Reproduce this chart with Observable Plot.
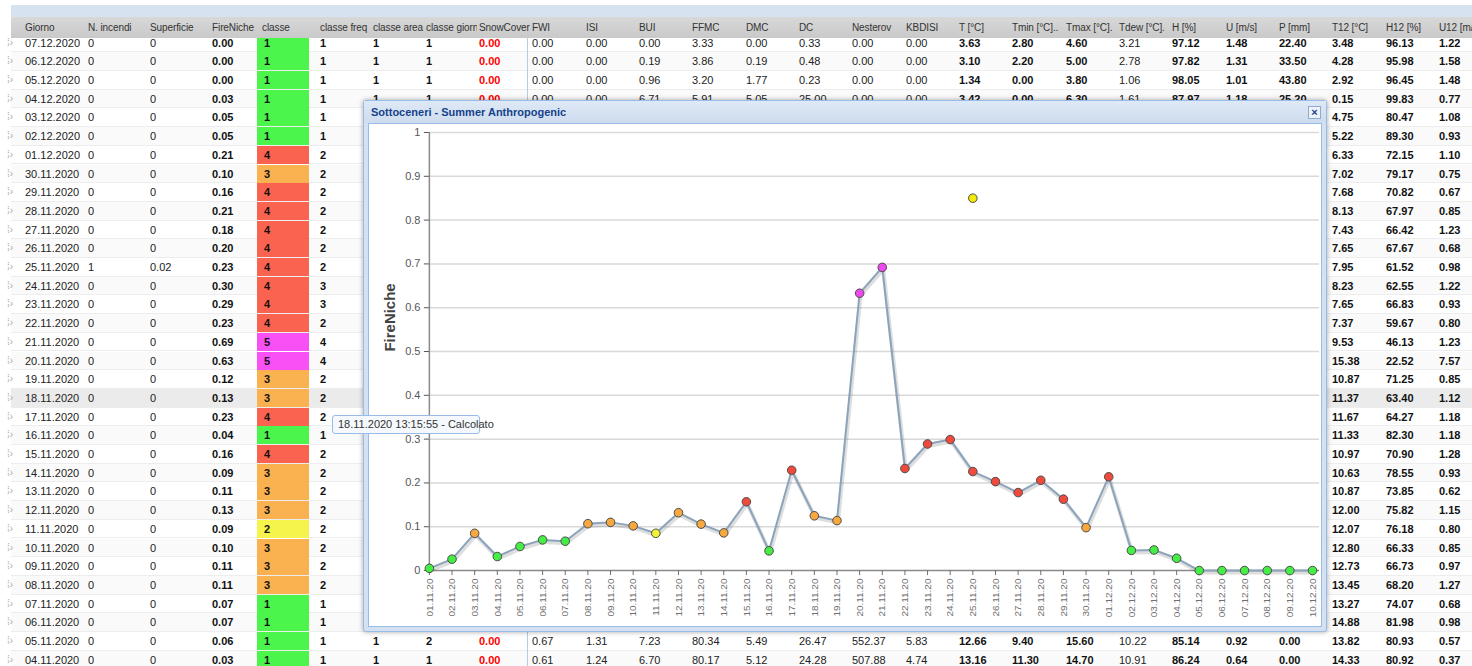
<!DOCTYPE html>
<html>
<head>
<meta charset="utf-8">
<script src="https://cdn.jsdelivr.net/npm/d3@7"></script>
<script src="https://cdn.jsdelivr.net/npm/@observablehq/plot@0.6"></script>
<style>
  html, body { margin: 0; padding: 0; width: 1472px; height: 666px; overflow: hidden; background: #fff; font-family: "Liberation Sans", Arial, sans-serif; font-size: 11px; color: #222; }
  .abs { position: absolute; }
  .band { left: 11px; right: 0; top: 5px; height: 12px; background: #d6e2f0; }
  .hdr { left: 11px; right: 0; top: 17px; height: 21px; background: linear-gradient(#d8d8d8, #c9c9c9); z-index: 3; }
  .hcell, .cell { position: absolute; white-space: nowrap; overflow: hidden; box-sizing: border-box; padding-left: 5px; }
  .hcell { top: 0; height: 21px; line-height: 21px; color: #333; font-size: 10px; letter-spacing: -0.1px; }
  .row { position: absolute; left: 11px; right: 0; height: 18.7px; border-bottom: 1px solid #ededed; box-sizing: border-box; }
  .cell { top: 0; height: 18px; line-height: 18px; }
  .b { font-weight: bold; color: #111; }
  .red { color: #f00; font-weight: bold; }
  .vline { left: 527px; top: 17px; bottom: 0; width: 1px; background: #b5cbe6; z-index: 2; }
  .grip { position: absolute; left: -4px; top: 0; line-height: 18px; color: #aaa; font-size: 10px; }
  #popup { left: 363px; top: 100px; width: 964px; height: 532px; background: #d3e1f1; border: 1px solid #99bbe8; box-sizing: border-box; box-shadow: 0 0 5px rgba(0,0,0,0.35); border-radius: 3px; z-index: 10; }
  #ptitle { position: absolute; left: 0; top: 0; right: 0; height: 22px; background: linear-gradient(#dfe9f6, #cddcee); color: #15428b; font-weight: bold; font-size: 11px; line-height: 23px; padding-left: 7px; }
  #pclose { position: absolute; right: 5px; top: 5px; width: 11px; height: 11px; border: 1px solid #8eaad0; background: #eef3fa; color: #15428b; font-size: 11px; line-height: 10px; text-align: center; font-weight: bold; }
  #pbody { position: absolute; left: 4px; top: 22px; width: 954px; height: 504px; background: #fff; border: 1px solid #99bbe8; box-sizing: border-box; overflow: hidden; }
  #chart svg { display: block; }
  #tip { left: 332px; top: 415px; width: 148px; height: 19px; box-sizing: border-box; border: 1px solid #99bbe8; background: #f5f8fc; border-radius: 3px; color: #333; font-size: 11px; line-height: 17px; padding-left: 5px; z-index: 20; white-space: nowrap; }
</style>
</head>
<body>
<div class="abs band"></div>
<div class="abs hdr" id="hdr"></div>
<div class="abs vline"></div>
<div id="rows"></div>
<div class="abs" id="popup">
  <div id="ptitle">Sottoceneri - Summer Anthropogenic</div>
  <div id="pclose">×</div>
  <div id="pbody"><div id="chart"></div></div>
</div>
<div class="abs" id="tip">18.11.2020 13:15:55 - Calcolato</div>
<script>
// ---------------- Table data ----------------
const headers = ["Giorno","N. incendi","Superficie","FireNiche","classe","classe freq","classe area","classe giorni","SnowCover","FWI","ISI","BUI","FFMC","DMC","DC","Nesterov","KBDISI","T [°C]","Tmin [°C]..","Tmax [°C].","Tdew [°C].","H [%]","U [m/s]","P [mm]","T12 [°C]","H12 [%]","U12 [m/s]"];
const giorno = ["07.12.2020","06.12.2020","05.12.2020","04.12.2020","03.12.2020","02.12.2020","01.12.2020","30.11.2020","29.11.2020","28.11.2020","27.11.2020","26.11.2020","25.11.2020","24.11.2020","23.11.2020","22.11.2020","21.11.2020","20.11.2020","19.11.2020","18.11.2020","17.11.2020","16.11.2020","15.11.2020","14.11.2020","13.11.2020","12.11.2020","11.11.2020","10.11.2020","09.11.2020","08.11.2020","07.11.2020","06.11.2020","05.11.2020","04.11.2020"];
const nIncendi = ["0","0","0","0","0","0","0","0","0","0","0","0","1","0","0","0","0","0","0","0","0","0","0","0","0","0","0","0","0","0","0","0","0","0"];
const superficie = ["0","0","0","0","0","0","0","0","0","0","0","0","0.02","0","0","0","0","0","0","0","0","0","0","0","0","0","0","0","0","0","0","0","0","0"];
const fireNicheTable = ["0.00","0.00","0.00","0.03","0.05","0.05","0.21","0.10","0.16","0.21","0.18","0.20","0.23","0.30","0.29","0.23","0.69","0.63","0.12","0.13","0.23","0.04","0.16","0.09","0.11","0.13","0.09","0.10","0.11","0.11","0.07","0.07","0.06","0.03"];
const classe = [1,1,1,1,1,1,4,3,4,4,4,4,4,4,4,4,5,5,3,3,4,1,4,3,3,3,2,3,3,3,1,1,1,1];
const classeFreq = [1,1,1,1,1,1,2,2,2,2,2,2,2,3,3,2,4,4,2,2,2,1,2,2,2,2,2,2,2,2,1,1,1,1];
const t12 = ["3.48","4.28","2.92","0.15","4.75","5.22","6.33","7.02","7.68","8.13","7.43","7.65","7.95","8.23","7.65","7.37","9.53","15.38","10.87","11.37","11.67","11.33","10.97","10.63","10.87","12.00","12.07","12.80","12.73","13.45","13.27","14.88","13.82","14.33"];
const h12 = ["96.13","95.98","96.45","99.83","80.47","89.30","72.15","79.17","70.82","67.97","66.42","67.67","61.52","62.55","66.83","59.67","46.13","22.52","71.25","63.40","64.27","82.30","70.90","78.55","73.85","75.82","76.18","66.33","66.73","68.20","74.07","81.98","80.93","80.92"];
const u12 = ["1.22","1.58","1.48","0.77","1.08","0.93","1.10","0.75","0.67","0.85","1.23","0.68","0.98","1.22","0.93","0.80","1.23","7.57","0.85","1.12","1.18","1.18","1.28","0.93","0.62","1.15","0.80","0.85","0.97","1.27","0.68","0.98","0.57","0.37"];
// middle columns (classe area .. P [mm]) for the rows not hidden by the popup
const midDates = ["07.12.2020","06.12.2020","05.12.2020","04.12.2020","05.11.2020","04.11.2020"];
const midValues = [
  ["1","1","0.00","0.00","0.00","0.00","3.33","0.00","0.33","0.00","0.00","3.63","2.80","4.60","3.21","97.12","1.48","22.40"],
  ["1","1","0.00","0.00","0.00","0.19","3.86","0.19","0.48","0.00","0.00","3.10","2.20","5.00","2.78","97.82","1.31","33.50"],
  ["1","1","0.00","0.00","0.00","0.96","3.20","1.77","0.23","0.00","0.00","1.34","0.00","3.80","1.06","98.05","1.01","43.80"],
  ["1","1","0.00","0.00","0.00","6.71","5.91","5.05","25.00","0.00","0.00","3.42","0.00","6.30","1.61","87.97","1.18","25.20"],
  ["1","2","0.00","0.67","1.31","7.23","80.34","5.49","26.47","552.37","5.83","12.66","9.40","15.60","10.22","85.14","0.92","0.00"],
  ["1","1","0.00","0.61","1.24","6.70","80.17","5.12","24.28","507.88","4.74","13.16","11.30","14.70","10.91","86.24","0.64","0.00"]
];
const classColors = {1: "#4cf54c", 2: "#f4f44c", 3: "#f9b24f", 4: "#fa6350", 5: "#f850f5"};

// ---------------- Chart data ----------------
const chartDates = ["01.11.20","02.11.20","03.11.20","04.11.20","05.11.20","06.11.20","07.11.20","08.11.20","09.11.20","10.11.20","11.11.20","12.11.20","13.11.20","14.11.20","15.11.20","16.11.20","17.11.20","18.11.20","19.11.20","20.11.20","21.11.20","22.11.20","23.11.20","24.11.20","25.11.20","26.11.20","27.11.20","28.11.20","29.11.20","30.11.20","01.12.20","02.12.20","03.12.20","04.12.20","05.12.20","06.12.20","07.12.20","08.12.20","09.12.20","10.12.20"];
const fireNiche = [0.005,0.026,0.085,0.032,0.055,0.07,0.067,0.107,0.11,0.102,0.085,0.132,0.106,0.086,0.157,0.045,0.229,0.125,0.114,0.633,0.692,0.233,0.289,0.299,0.226,0.203,0.178,0.206,0.163,0.098,0.214,0.046,0.047,0.028,0,0,0,0,0,0];
const chartClass = [1,1,3,1,1,1,1,3,3,3,2,3,3,3,4,1,4,3,3,5,5,4,4,4,4,4,4,4,4,3,4,1,1,1,1,1,1,1,1,1];
const fireEventDates = ["25.11.20"];
const fireEventValues = [0.85];
const yTicks = [0,0.1,0.2,0.3,0.4,0.5,0.6,0.7,0.8,0.9,1];
const pointColors = {1: "#44ee44", 2: "#f2f238", 3: "#f7a83e", 4: "#f04a3c", 5: "#ee48ee"};

// ---------------- Build table ----------------
const colLeft = [20,83,145,207,257,315,368,421,474,527,581,634,687,741,794,847,901,954,1007,1061,1114,1167,1221,1274,1327,1381,1434];
const colW = colLeft.map((x, i) => (i < colLeft.length - 1 ? colLeft[i + 1] - x : 60));
const boldCols = new Set([3,4,5,6,7,17,18,19,21,22,23,24,25,26]);
const hdr = document.getElementById("hdr");
headers.forEach((h, i) => {
  const d = document.createElement("div");
  d.className = "hcell";
  d.style.left = (colLeft[i] - 11) + "px";
  d.style.width = (colW[i] + 3) + "px";
  d.textContent = h;
  hdr.appendChild(d);
});
const rowsEl = document.getElementById("rows");
giorno.forEach((g, r) => {
  const row = document.createElement("div");
  row.className = "row";
  row.style.top = (33.6 + 18.7 * r) + "px";
  row.style.background = g === "18.11.2020" ? "#ebebeb" : (r % 2 ? "#fafafa" : "#fff");
  const grip = document.createElement("span");
  grip.className = "grip"; grip.textContent = "⁞›";
  row.appendChild(grip);
  const vals = new Array(headers.length).fill("");
  vals[0] = g; vals[1] = nIncendi[r]; vals[2] = superficie[r]; vals[3] = fireNicheTable[r];
  vals[4] = String(classe[r]); vals[5] = String(classeFreq[r]);
  vals[24] = t12[r]; vals[25] = h12[r]; vals[26] = u12[r];
  const mi = midDates.indexOf(g);
  if (mi >= 0) midValues[mi].forEach((v, k) => { vals[6 + k] = v; });
  vals.forEach((v, i) => {
    if (v === "") return;
    const c = document.createElement("div");
    c.className = "cell" + (i === 8 ? " red" : boldCols.has(i) ? " b" : "");
    c.style.left = (colLeft[i] - 11) + "px";
    c.style.width = (i === 4 ? 52 : colW[i] - 2) + "px";
    if (i === 4) { c.style.background = classColors[classe[r]]; c.style.paddingLeft = "7px"; }
    c.textContent = v;
    row.appendChild(c);
  });
  rowsEl.appendChild(row);
});

// ---------------- Build chart ----------------
const points = chartDates.map((d, i) => ({date: d, value: fireNiche[i], cls: chartClass[i]}));
const events = fireEventDates.map((d, i) => ({date: d, value: fireEventValues[i]}));
const chart = Plot.plot({
  width: 954,
  height: 504,
  marginLeft: 60,
  marginRight: 9,
  marginTop: 8,
  marginBottom: 57,
  style: {fontFamily: "'Liberation Sans', Arial, sans-serif", background: "#fff", overflow: "visible"},
  x: {type: "point", domain: chartDates, padding: 0, round: false},
  y: {domain: [0, 1]},
  marks: [
    Plot.ruleY(yTicks.filter(d => d > 0), {stroke: "#d9d9d9", strokeWidth: 1.5, insetRight: -7}),
    Plot.ruleY([0], {stroke: "#8a8a8a", strokeWidth: 1.5, insetRight: -7}),
    Plot.ruleX([chartDates[0]], {stroke: "#8a8a8a", strokeWidth: 1.5}),
    Plot.axisY(yTicks, {tickSize: 5, tickPadding: 4, fontSize: 11, color: "#555", tickFormat: d3.format("~g"), label: null}),
    Plot.axisX({tickRotate: -90, tickSize: 5, tickPadding: 3, fontSize: 10, color: "#6f6f6f", label: null}),
    Plot.text(["FireNiche"], {frameAnchor: "left", rotate: -90, dx: -39, fontSize: 15, fontWeight: "bold", fill: "#444"}),
    Plot.line(points, {x: "date", y: "value", stroke: "#000", strokeOpacity: 0.13, strokeWidth: 4, dx: 1, dy: 2}),
    Plot.line(points, {x: "date", y: "value", stroke: "#8ba3bb", strokeWidth: 2}),
    Plot.dot(points, {x: "date", y: "value", r: 4.3, fill: d => pointColors[d.cls], stroke: "#4a4a4a", strokeWidth: 1}),
    Plot.dot(events, {x: "date", y: "value", r: 4.3, fill: "#f2ea06", stroke: "#4a4a4a", strokeWidth: 1})
  ]
});
document.getElementById("chart").appendChild(chart);
</script>
</body>
</html>
